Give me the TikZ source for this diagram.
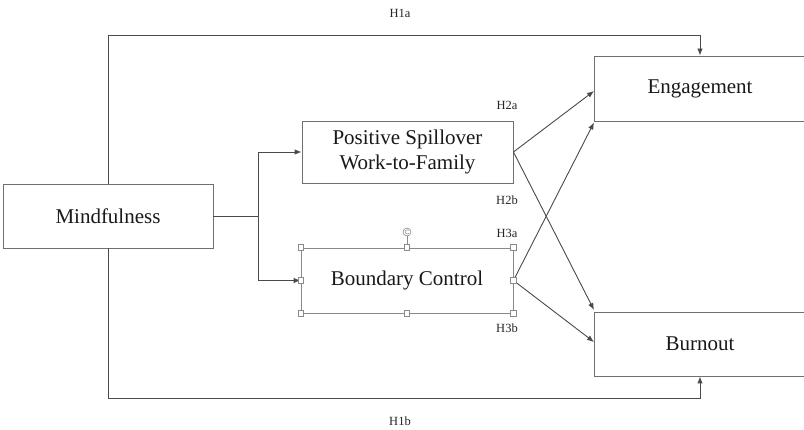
\documentclass[tikz,border=0pt]{standalone}
\usepackage{fontspec}
\setmainfont{Liberation Serif}
\usetikzlibrary{arrows.meta,calc}
\definecolor{ln}{HTML}{4A4A4A}
\definecolor{bx}{HTML}{707070}
\definecolor{hd}{HTML}{8A8A8A}
\tikzset{
  box/.style={draw=bx, line width=0.9pt, fill=white, inner sep=0pt, align=center,
    font=\fontsize{21}{25}\selectfont, text=black!90},
  conn/.style={draw=ln, line width=0.9pt},
  arr/.style={conn, -{Latex[length=7pt,width=5.5pt]}},
  hyp/.style={font=\fontsize{12.5}{14}\selectfont, text=black!85, inner sep=0pt},
  handle/.style={draw=hd, fill=white, line width=0.6pt, minimum size=5.5pt, inner sep=0pt}
}
\begin{document}
\begin{tikzpicture}[x=1pt,y=-1pt]
\useasboundingbox (0,0) rectangle (804,430);
\clip (0,0) rectangle (804,430);
\fill[white] (0,0) rectangle (804,430);

\node[box, minimum width=210pt, minimum height=64pt] (mind) at (108,216) {Mindfulness};
\node[box, minimum width=211pt, minimum height=62pt] (ps) at (407.5,152) {Positive Spillover\\Work-to-Family};
\node[box, minimum width=212pt, minimum height=65pt, draw=hd] (bc) at (407,280.5) {Boundary Control};
\node[box, minimum width=212pt, minimum height=65pt] (eng) at (700,88.5) {Engagement};
\node[box, minimum width=212pt, minimum height=64pt] (burn) at (700,344) {Burnout};

% direct paths
\coordinate (t1) at (108,35.5);
\coordinate (t2) at (108,398);
\draw[conn] (mind.north) -- (t1) -| (700,50);
\draw[arr] (700,48) -- (eng.north);
\draw[conn] (mind.south) -- (t2) -| (700,384);
\draw[arr] (700,386) -- (burn.south);
\node[hyp] (h1a) at (400,13) {H1a};
\node[hyp] (h1b) at (400,421) {H1b};

% fork
\coordinate (fork) at (258,216);
\draw[conn] (mind.east) -- (fork);
\draw[arr] (fork) |- (ps.west);
\draw[arr] (fork) |- (bc.west);

% cross paths
\coordinate (e1) at (594,91);
\coordinate (e2) at (594,122.5);
\coordinate (b1) at (594,310);
\coordinate (b2) at (594,342);
\draw[arr] (ps.east) -- (e1);
\draw[arr] (ps.east) -- (b1);
\draw[arr] (bc.east) -- (e2);
\draw[arr] (bc.east) -- (b2);

\node[hyp] (h2a) at (507,105) {H2a};
\node[hyp] (h2b) at (507,200) {H2b};
\node[hyp] (h3a) at (507,233) {H3a};
\node[hyp] (h3b) at (507,328) {H3b};

% selection handles on Boundary Control
\coordinate (rot) at (407,232);
\draw[hd, line width=0.6pt] (bc.north) -- (407,236.5);
\draw[hd, line width=0.6pt, fill=white] (rot) circle (4pt);
\draw[hd, line width=0.5pt] (409,230.5) arc (40:320:2.2pt);
\foreach \a in {north west,north,north east,west,east,south west,south,south east}
  \node[handle] at (bc.\a) {};
\end{tikzpicture}
\end{document}
